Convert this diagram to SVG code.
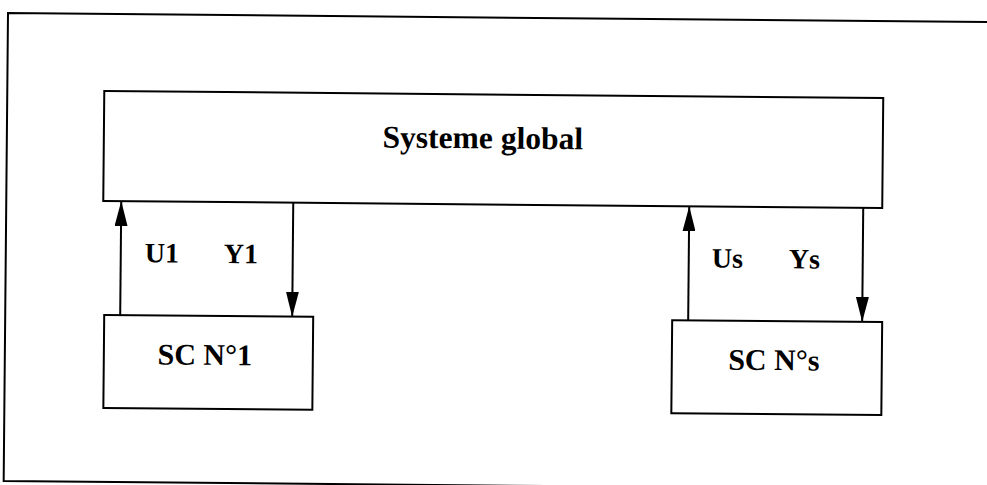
<svg xmlns="http://www.w3.org/2000/svg" width="987" height="485" viewBox="0 0 987 485">
<style>
.box{fill:#fff;stroke:#000;stroke-width:2}
.frame{fill:none;stroke:#000;stroke-width:2}
.conn{stroke:#000;stroke-width:2;fill:none}
.t{font-family:"Liberation Serif","Times New Roman",serif;font-weight:bold;fill:#000}
.big{font-size:30px}
.title{font-size:31.5px}
.lbl{font-size:28px}
</style>
<defs>
<marker id="ah" viewBox="0 0 25 13" refX="25" refY="6.5" markerWidth="25" markerHeight="13" markerUnits="userSpaceOnUse" orient="auto">
<path d="M0,0 L25,6.5 L0,13 Z" fill="#000"/>
</marker>
</defs>
<rect width="987" height="485" fill="#fff"/>
<g transform="rotate(0.53 8 13)">
<path class="frame" d="M1000 13 L8 13 L8 481 L1000 481"/>
<g id="systeme-global">
<rect class="box" x="105" y="90" width="779" height="110"/>
<text class="t title" x="484" y="144" text-anchor="middle">Systeme global</text>
</g>
<g id="sc1">
<rect class="box" x="107" y="314" width="209" height="93"/>
<text class="t big" x="208" y="363" text-anchor="middle">SC N°1</text>
</g>
<g id="scs">
<rect class="box" x="675" y="314" width="210" height="93"/>
<text class="t big" x="777" y="363" text-anchor="middle">SC N°s</text>
</g>
<g id="connectors">
<line class="conn" x1="123" y1="314" x2="123" y2="200" marker-end="url(#ah)"/>
<line class="conn" x1="295" y1="200" x2="295" y2="314" marker-end="url(#ah)"/>
<line class="conn" x1="691" y1="314" x2="691" y2="200" marker-end="url(#ah)"/>
<line class="conn" x1="865" y1="200" x2="865" y2="314" marker-end="url(#ah)"/>
<text class="t lbl" x="147" y="261">U1</text>
<text class="t lbl" x="226" y="261">Y1</text>
<text class="t lbl" x="714" y="261">Us</text>
<text class="t lbl" x="791" y="261">Ys</text>
</g>
</g>
</svg>
